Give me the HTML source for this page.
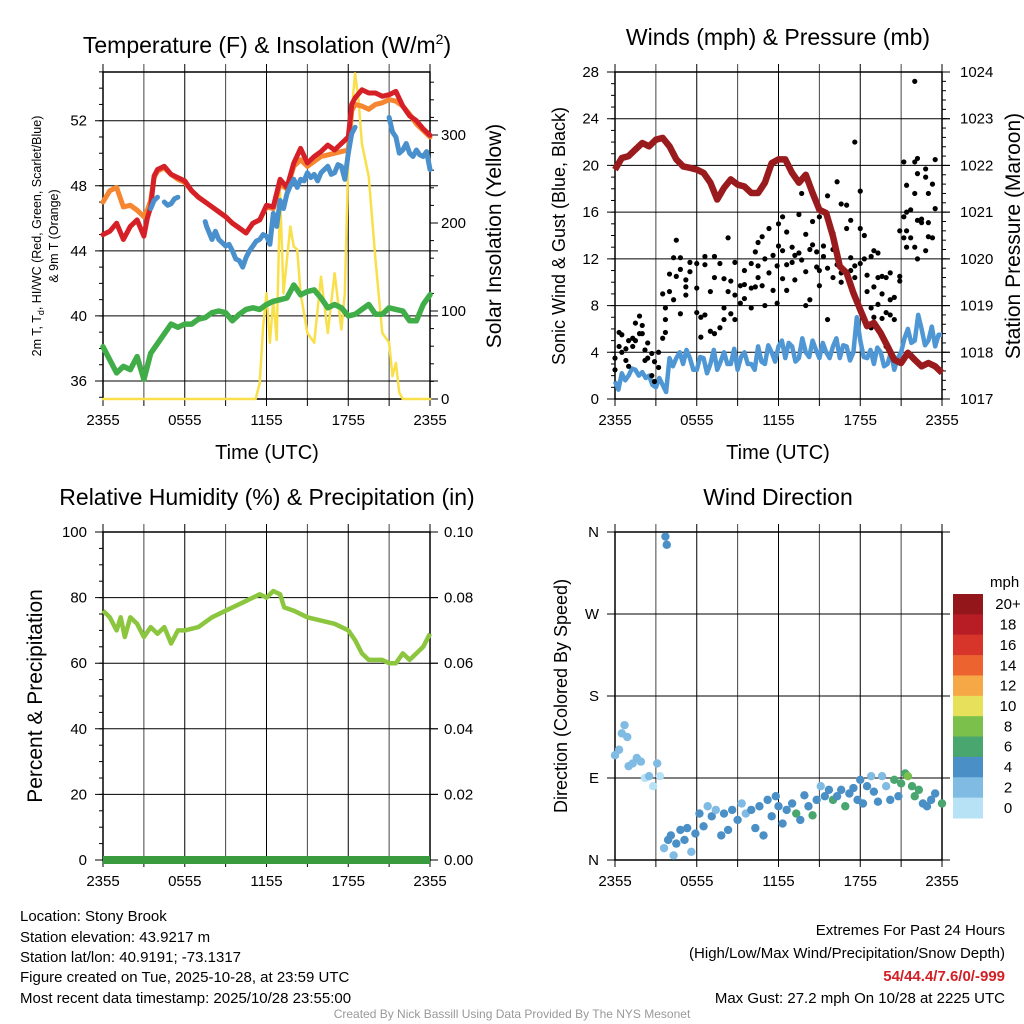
<!DOCTYPE html>
<html><head><meta charset="utf-8">
<style>
html,body{margin:0;padding:0;background:#fff;}
svg{display:block;font-family:"Liberation Sans",Arial,sans-serif;}
</style></head>
<body>
<svg id="s" width="1024" height="1024" viewBox="0 0 1024 1024" xmlns="http://www.w3.org/2000/svg">
<g id="g1"></g>
<g id="g2"></g>
<g id="g3"></g>
<g id="g4"></g>
<g id="ft">
<text x="20" y="921" font-size="15">Location: Stony Brook</text>
<text x="20" y="942" font-size="15">Station elevation: 43.9217 m</text>
<text x="20" y="962" font-size="15">Station lat/lon: 40.9191; -73.1317</text>
<text x="20" y="982" font-size="15">Figure created on Tue, 2025-10-28, at 23:59 UTC</text>
<text x="20" y="1003" font-size="15">Most recent data timestamp: 2025/10/28 23:55:00</text>
<text x="1005" y="935" font-size="15" text-anchor="end">Extremes For Past 24 Hours</text>
<text x="1005" y="958" font-size="15" text-anchor="end">(High/Low/Max Wind/Precipitation/Snow Depth)</text>
<text x="1005" y="981" font-size="15" font-weight="bold" fill="#d21f26" text-anchor="end">54/44.4/7.6/0/-999</text>
<text x="1005" y="1003" font-size="15" text-anchor="end">Max Gust: 27.2 mph On 10/28 at 2225 UTC</text>
<text x="512" y="1018" font-size="12" fill="#999" text-anchor="middle">Created By Nick Bassill Using Data Provided By The NYS Mesonet</text>
</g>
</svg>
<script>
// ---------- data ----------
const xTickLabels = ["2355","0555","1155","1755","2355"];
const tempHours = [0,0.5,1,1.5,2,2.5,3,3.25,3.5,3.75,4,4.5,5,5.5,6,6.5,7,7.5,8,8.5,9,9.5,10,10.5,11,11.5,12,12.5,13,13.5,14,14.5,15,15.5,16,16.5,17,17.5,18,18.25,18.5,19,19.5,20,20.5,21,21.5,22,22.5,23,23.5,24];
const tempRed = [45.0,45.2,45.7,44.7,45.5,45.9,44.9,46.0,46.7,48.6,49.0,49.2,48.7,48.5,48.3,47.7,47.3,47.0,46.7,46.4,46.1,45.7,45.4,45.1,45.7,45.9,46.8,46.7,48.4,47.9,49.4,50.3,49.4,49.8,50.1,50.5,50.2,50.6,51.0,53.0,53.4,53.9,53.7,53.7,53.5,53.6,53.8,52.9,52.3,52.0,51.5,51.1];
const tempOrange = [47.0,47.7,47.9,46.7,46.8,46.5,46.1,46.5,47.1,48.5,48.9,49.1,48.7,48.4,48.2,47.7,47.3,47.0,46.7,46.4,46.1,45.7,45.4,45.1,45.7,45.9,46.7,46.6,48.1,47.8,49.2,49.6,49.2,49.5,49.8,49.9,50.0,50.1,50.2,52.6,53.0,52.9,52.7,53.0,53.1,53.3,53.2,52.9,52.4,51.8,51.4,51.0];
const dewHours = [0,0.5,1,1.5,2,2.5,3,3.5,4,4.5,5,5.5,6,6.5,7,7.5,8,8.5,9,9.5,10,10.5,11,11.5,12,12.5,13,13.5,14,14.5,15,15.5,16,16.5,17,17.5,18,18.5,19,19.5,20,20.5,21,21.5,22,22.5,23,23.5,24];
const dewGreen = [38.1,37.3,36.5,36.9,36.7,37.5,36.1,37.7,38.3,38.9,39.5,39.3,39.5,39.5,39.8,39.9,40.2,40.3,40.2,39.7,40.1,40.4,40.5,40.4,40.7,40.9,41.0,41.1,41.9,41.3,41.5,41.6,41.1,40.5,40.7,40.5,40.0,40.1,40.4,40.7,40.1,40.1,40.5,40.4,40.3,39.7,39.7,40.7,41.3];
const wcHours = [3.5,3.75,4,4.25,4.5,4.75,5,5.25,5.5,5.75,7.5,7.6,8,8.25,8.5,8.75,9,9.25,9.5,9.75,10,10.25,10.5,10.75,11,11.25,11.5,11.75,12,12.25,12.5,12.75,13,13.25,13.5,13.75,14,14.25,14.5,14.75,15,15.25,15.5,15.75,16,16.25,16.5,16.75,17,17.25,17.5,17.75,18,18.25,18.5,19.5,21,21.25,21.5,21.75,22,22.25,22.5,22.75,23,23.25,23.5,23.75,24];
const wcBlue = [46.6,47.1,47.3,null,47.0,46.8,46.9,47.2,47.3,null,45.8,45.5,44.7,45.2,44.7,44.5,44.3,44.4,44.0,43.5,43.4,43.0,43.6,44.0,44.3,44.6,44.7,45.0,44.9,44.4,46.3,45.5,47.1,46.6,47.5,48.0,48.4,47.9,48.4,48.3,48.8,48.5,48.7,48.3,48.8,49.0,49.2,48.7,48.8,49.3,49.2,48.4,50.0,51.2,51.6,null,52.2,51.3,51.0,50.0,50.2,50.6,50.0,49.8,50.2,49.9,49.8,50.1,49.0];
const solarHours = [0,11.2,11.5,11.75,12,12.25,12.5,12.75,13,13.25,13.5,13.75,14,14.25,14.5,15,15.5,16,16.5,17,17.5,17.75,18,18.25,18.5,18.75,19,19.5,20,20.5,21,21.25,21.5,21.75,22,24];
const solarVals = [0,0,18,82,120,64,113,67,234,120,158,196,173,170,120,75,64,139,75,143,79,120,272,328,370,340,290,253,158,75,64,26,41,7,0,0];

const presHours = dewHours;
const presVals = [1021.91,1022.16,1022.2,1022.34,1022.48,1022.41,1022.55,1022.59,1022.41,1022.13,1021.98,1021.95,1021.91,1021.84,1021.63,1021.27,1021.52,1021.7,1021.59,1021.55,1021.41,1021.41,1021.63,1022.05,1022.13,1022.13,1021.84,1021.63,1021.8,1021.41,1021.05,1020.98,1020.48,1019.84,1019.7,1019.27,1018.91,1018.56,1018.63,1018.41,1018.13,1017.84,1017.77,1017.99,1017.84,1017.7,1017.77,1017.7,1017.56];
const windHours = [0,0.25,0.5,0.75,1,1.25,1.5,1.75,2,2.25,2.5,2.75,3,3.25,3.5,3.75,4,4.25,4.5,4.75,5,5.25,5.5,5.75,6,6.25,6.5,6.75,7,7.25,7.5,7.75,8,8.25,8.5,8.75,9,9.25,9.5,9.75,10,10.25,10.5,10.75,11,11.25,11.5,11.75,12,12.25,12.5,12.75,13,13.25,13.5,13.75,14,14.25,14.5,14.75,15,15.25,15.5,15.75,16,16.25,16.5,16.75,17,17.25,17.5,17.75,18,18.25,18.5,18.75,19,19.25,19.5,19.75,20,20.25,20.5,20.75,21,21.25,21.5,21.75,22,22.25,22.5,22.75,23,23.25,23.5,23.75,24];
const windVals = [1.5,0.8,2.2,1.6,2.0,2.6,2.5,2.0,2.3,1.8,2.0,1.2,1.0,1.8,1.2,0.6,3.5,2.8,3.5,4.0,3.0,4.2,3.5,2.5,2.5,3.6,3.5,2.2,3.0,4.2,2.5,3.2,4.0,3.0,3.0,4.3,2.5,3.6,4.0,3.0,3.0,2.5,4.5,3.2,3.0,4.6,4.0,3.2,4.5,5.0,3.5,4.8,4.5,3.2,3.5,5.2,4.0,3.6,5.0,4.2,3.5,4.8,4.0,3.5,4.5,5.2,3.5,4.6,4.5,3.3,4.0,7.0,5.0,3.6,3.5,4.2,3.0,4.4,4.0,2.8,3.0,4.0,2.5,3.5,4.0,5.2,6.0,4.8,5.0,7.2,6.0,4.6,5.0,6.2,4.5,5.5,5.5];
const gustHours = [0,0,0.3,0.3,0.5,0.5,0.8,0.8,1,1,1.3,1.3,1.5,1.5,1.8,1.8,2,2,2.2,2.2,2.4,2.4,2.7,2.7,2.9,2.9,3.2,3.2,3.5,3.5,3.7,3.7,3.7,4,4,4.3,4.3,4.5,4.5,4.8,4.8,4.8,5.2,5.2,5.2,5.5,5.5,6,6,6,6.3,6.3,6.6,6.6,6.6,7,7,7.3,7.3,7.3,7.7,7.7,8,8,8,8.3,8.3,8.5,8.5,8.8,8.8,8.8,9.2,9.2,9.5,9.5,9.5,10,10,10,10.3,10.3,10.5,10.5,10.5,10.8,10.8,11,11,11.3,11.3,11.6,11.6,11.9,11.9,12,12,12.3,12.3,12.3,12.6,12.6,12.6,13,13,13.2,13.2,13.5,13.5,13.7,13.7,14,14,14,14.3,14.3,14.5,14.5,14.8,14.8,15,15,15,15.3,15.3,15.6,15.6,15.6,16,16,16,16.3,16.3,16.6,16.6,16.6,17,17,17.3,17.3,17.3,17.6,17.6,17.6,18,18,18,18.3,18.3,18.5,18.5,18.8,18.8,18.8,19,19,19,19.3,19.3,19.3,19.6,19.6,19.6,19.9,19.9,19.9,20.2,20.2,20.2,20.5,20.5,20.9,20.9,20.9,21.2,21.2,21.2,21.4,21.4,21.4,21.4,21.7,21.7,22,22,22,22,22.2,22.2,22.2,22.2,22.5,22.5,22.8,22.8,22.8,23,23,23,23.3,23.3,23.5,23.5];
const gustVals = [3.5,2.5,5.7,4.5,4.0,5.5,4.3,3.3,5.0,2.8,4.5,5.2,6.5,5.0,7.1,5.6,5.6,6.3,3.3,4.2,4.8,3.5,3.9,2.0,3.2,1.5,2.7,4.0,9.0,5.2,7.8,6.8,5.7,10.7,9.2,12.1,8.5,13.6,10.5,12.1,11.1,7.3,10.2,9.6,8.9,11.7,10.9,7.4,9.5,11.6,5.3,7.0,12.2,7.2,11.5,9.2,5.8,10.4,12.2,5.6,6.1,11.6,10.3,6.8,7.8,9.2,13.8,10.1,7.3,11.7,8.9,6.8,9.7,8.2,11.0,9.8,8.6,9.5,7.8,11.6,12.6,9.6,13.4,11.4,10.4,9.7,13.9,12.0,8.0,14.6,10.8,12.3,9.3,11.4,8.2,15.0,13.1,15.6,12.7,10.3,14.3,11.5,9.3,11.7,13.0,12.3,10.2,15.8,12.5,17.6,11.9,14.1,10.9,8.0,12.8,8.5,15.2,13.2,12.6,11.3,15.6,11.0,9.7,12.2,13.1,17.4,6.8,11.2,14.2,12.8,10.4,18.6,11.5,16.7,10.8,10.0,16.6,14.6,15.3,12.1,11.0,22.0,10.4,11.4,17.8,14.6,11.6,14.0,12.0,10.6,9.2,12.2,7.8,6.1,12.7,9.6,7.0,12.5,10.4,8.1,9.0,6.9,10.5,10.4,7.4,4.5,8.5,7.2,10.8,8.7,6.8,14.4,10.5,10.1,15.6,13.8,20.3,18.3,16.0,14.4,13.0,16.2,13.8,17.6,27.2,20.3,13.0,12.0,20.6,15.3,19.3,15.1,15.4,19.7,19.0,12.7,17.6,15.1,13.9,18.4,13.8,16.3,20.5];

const rhHours = [0,0.5,1,1.3,1.6,2,2.5,3,3.5,4,4.5,5,5.5,6,7,8,9,10,11,11.5,12,12.5,13,13.3,14,15,16,17,18,18.5,19,19.5,20,20.5,21,21.5,22,22.5,23,23.5,24];
const rhVals = [76,74,70,74,68,74,72,68,71,69,71,66,70,70,71,74,76,78,80,81,80,82,81,77,76,74,73,72,70,67,63,61,61,61,60,60,63,61,63,65,69];
const precipHours = [0,24];
const precipVals = [0,0];

const dirHours = [0,0.3,0.5,0.7,0.9,1,1.3,1.6,1.9,2.2,2.5,2.8,3.1,3.3,3.7,3.8,3.6,3.9,4.1,4.3,4.5,4.8,5.1,5.3,5.6,5.9,6.2,6.5,6.8,7.1,7.4,7.8,8,8.3,8.6,9,9.3,9.6,10,10.3,10.6,10.9,11.2,11.5,11.8,12,12.3,12.6,13,13.3,13.6,13.9,14.2,14.5,14.8,15.1,15.4,15.7,16,16.3,16.6,16.9,17.2,17.5,17.8,18,18.2,18.5,18.8,19,19.3,19.6,19.9,20.2,20.5,20.8,21,21.3,21.5,21.8,22,22.3,22.6,22.9,23.2,23.5,24];
const dirVals = [115,121,139,148,135,103,106,112,108,90,92,81,106,92,355,346,13,22,27,5,18,33,22,35,9,29,51,37,59,48,55,27,51,33,55,44,62,51,55,35,59,27,66,48,70,59,40,55,62,51,44,71,59,49,66,81,70,77,66,70,77,59,73,79,66,88,62,81,92,75,64,92,81,66,88,70,84,95,92,81,70,77,62,59,66,73,62];
const dirSpeeds = [2,2,2,2,2,2,2,2,2,1,2,1,2,0,4,4,2,4,4,2,4,4,4,4,2,4,4,4,2,4,2,4,4,4,4,4,2,2,4,4,4,4,4,4,4,4,4,4,4,6,4,4,4,6,4,2,4,4,6,4,4,6,4,4,4,4,4,4,2,4,4,2,2,4,6,4,6,6,8,6,6,6,4,4,4,4,6];
const cbLabels = ["20+","18","16","14","12","10","8","6","4","2","0"];
const cbColors = ["#93161a","#b81d25","#d8352a","#ec6330","#f5a845","#e7e05b","#7bc04b","#49a66f","#4a90c6","#80bbe4","#b7e2f6"];

// ---------- helpers ----------
const NS="http://www.w3.org/2000/svg";
function mk(parent,tag,attrs,text){const e=document.createElementNS(NS,tag);for(const k in attrs)e.setAttribute(k,attrs[k]);if(text!==undefined)e.textContent=text;parent.appendChild(e);return e;}
function lin(d0,d1,r0,r1){return v=>r0+(v-d0)*(r1-r0)/(d1-d0);}
function pathFrom(xs,ys,sx,sy){let d="",pen=false;for(let i=0;i<xs.length;i++){if(ys[i]===null){pen=false;continue;}d+=(pen?"L":"M")+sx(xs[i]).toFixed(1)+","+sy(ys[i]).toFixed(1);pen=true;}return d;}
function colorFor(s){const idx=Math.min(10,Math.floor(s/2));return cbColors[10-idx];}

function frame(g,x0,x1,y0,y1,yticks,ysc,ylab,xlabY){
  for(let h=0;h<=24;h+=3){const x=lin(0,24,x0,x1)(h);
    const gl=mk(g,"line",{x1:x,x2:x,y1:y0-8,y2:y1,stroke:h%6===0?"#000":"#444","stroke-width":1});
    
    
    mk(g,"line",{x1:x,x2:x,y1:y1,y2:y1+7,stroke:"#000"});}
  xTickLabels.forEach((t,i)=>{const x=lin(0,24,x0,x1)(i*6);
    const tl=mk(g,"text",{x:x,y:xlabY,"font-size":15,"text-anchor":"middle"},t);
    
    });
  yticks.forEach((v,i)=>{const y=ysc(v);
    const gl=mk(g,"line",{x1:x0-8,x2:x1+8,y1:y,y2:y,stroke:"#000","stroke-width":1});
    
    
    const tl=mk(g,"text",{x:x0-16,y:y+5,"font-size":15,"text-anchor":"end"},ylab[i]);
    
    });
  mk(g,"rect",{x:x0,y:y0,width:x1-x0,height:y1-y0,fill:"none",stroke:"#000","stroke-width":1.5});
}

// ---------- Panel 1 ----------
(function(){
const g=document.getElementById("g1");
const X0=103,X1=430,Y0=72,Y1=399;
const sx=lin(0,24,X0,X1), sy=lin(36,52,381,120.7), ss=lin(0,300,399,135);
const tt=mk(g,"text",{x:267,y:53,"font-size":23,"text-anchor":"middle"});


tt.innerHTML='Temperature (F) &amp; Insolation (W/m<tspan dy="-9" font-size="14">2</tspan><tspan dy="9">)</tspan>';
frame(g,X0,X1,Y0,Y1,[36,40,44,48,52],sy,["36","40","44","48","52"],425);
for(let v=35;v<=55;v++){mk(g,"line",{x1:X0-4,x2:X0,y1:sy(v),y2:sy(v),stroke:"#000"});}
[0,100,200,300].forEach(v=>{const y=ss(v);mk(g,"line",{x1:X1,x2:X1+8,y1:y,y2:y,stroke:"#000"});
  const t=mk(g,"text",{x:X1+11,y:y+5,"font-size":15},String(v));
  
  });
for(let v=20;v<=360;v+=20){if(v%100)mk(g,"line",{x1:X1,x2:X1+4,y1:ss(v),y2:ss(v),stroke:"#000"});}
const lines=[[solarHours,solarVals,ss,"#f9e04b",2.5,"solar-insolation-line"],[tempHours,tempOrange,sy,"#f68630",5,"temp-9m-line"],[tempHours,tempRed,sy,"#d52027",5,"temp-2m-line"],[dewHours,dewGreen,sy,"#41ad49",5.5,"dewpoint-line"],[wcHours,wcBlue,sy,"#4a90cd",5,"heat-index-line"]];
lines.forEach(L=>{const p=mk(g,"path",{d:pathFrom(L[0],L[1],sx,L[2]),fill:"none",stroke:L[3],"stroke-width":L[4],"stroke-linejoin":"round","stroke-linecap":"round"});
  
  });
const yl=mk(g,"text",{transform:"translate(41,236) rotate(-90)","font-size":12.5,"text-anchor":"middle"});


yl.innerHTML='2m T, T<tspan font-size="9" dy="3">d</tspan><tspan dy="-3">, HI/WC (Red, Green, Scarlet/Blue)</tspan>';
const yl2=mk(g,"text",{transform:"translate(58,236) rotate(-90)","font-size":12.5,"text-anchor":"middle"},"& 9m T (Orange)");


const yr=mk(g,"text",{transform:"translate(501,236) rotate(-90)","font-size":21,"text-anchor":"middle"},"Solar Insolation (Yellow)");


const xl=mk(g,"text",{x:267,y:459,"font-size":20,"text-anchor":"middle"},"Time (UTC)");


})();

// ---------- Panel 2 ----------
(function(){
const g=document.getElementById("g2");
const X0=615,X1=942,Y0=72,Y1=399;
const sx=lin(0,24,X0,X1), sw=lin(0,28,Y1,Y0), sp=lin(1017,1024,Y1,Y0);
const tt=mk(g,"text",{x:778,y:45,"font-size":23,"text-anchor":"middle"},"Winds (mph) & Pressure (mb)");


frame(g,X0,X1,Y0,Y1,[0,4,8,12,16,20,24,28],sw,["0","4","8","12","16","20","24","28"],425);
for(let v=1017;v<=1024;v++){const y=sp(v);mk(g,"line",{x1:X1,x2:X1+8,y1:y,y2:y,stroke:"#000"});
  const t=mk(g,"text",{x:X1+18,y:y+5,"font-size":15},String(v));
  
  }
for(let v=1017;v<1024;v+=0.2){mk(g,"line",{x1:X1,x2:X1+4,y1:sp(v),y2:sp(v),stroke:"#000"});}
for(let v=0;v<28;v+=1){mk(g,"line",{x1:X0-4,x2:X0,y1:sw(v),y2:sw(v),stroke:"#000"});}
const wl=mk(g,"path",{d:pathFrom(windHours,windVals,sx,sw),fill:"none",stroke:"#4e97d4","stroke-width":4.5,"stroke-linejoin":"round"});


gustHours.forEach((h,i)=>{const c=mk(g,"circle",{cx:sx(h),cy:sw(gustVals[i]),r:2.6,fill:"#000"});
  
  });
const pl=mk(g,"path",{d:pathFrom(presHours,presVals,sx,sp),fill:"none",stroke:"#9a1b1d","stroke-width":6.5,"stroke-linejoin":"round"});


const yl=mk(g,"text",{transform:"translate(565,236) rotate(-90)","font-size":18,"text-anchor":"middle"},"Sonic Wind & Gust (Blue, Black)");


const yr=mk(g,"text",{transform:"translate(1020,236) rotate(-90)","font-size":21,"text-anchor":"middle"},"Station Pressure (Maroon)");


const xl=mk(g,"text",{x:778,y:459,"font-size":20,"text-anchor":"middle"},"Time (UTC)");


})();

// ---------- Panel 3 ----------
(function(){
const g=document.getElementById("g3");
const X0=103,X1=430,Y0=532,Y1=860;
const sx=lin(0,24,X0,X1), sr=lin(0,100,Y1,Y0), spc=lin(0,0.1,Y1,Y0);
const tt=mk(g,"text",{x:267,y:505,"font-size":23,"text-anchor":"middle"},"Relative Humidity (%) & Precipitation (in)");


frame(g,X0,X1,Y0,Y1,[0,20,40,60,80,100],sr,["0","20","40","60","80","100"],886);
[0,0.02,0.04,0.06,0.08,0.1].forEach(v=>{const y=spc(v);mk(g,"line",{x1:X1,x2:X1+8,y1:y,y2:y,stroke:"#000"});
  const t=mk(g,"text",{x:X1+14,y:y+5,"font-size":15},v.toFixed(2));
  
  });
for(let v=0;v<=100;v+=5){mk(g,"line",{x1:X0-4,x2:X0,y1:sr(v),y2:sr(v),stroke:"#000"});}
const rl=mk(g,"path",{d:pathFrom(rhHours,rhVals,sx,sr),fill:"none",stroke:"#8cc63f","stroke-width":4.5,"stroke-linejoin":"round"});


const pl=mk(g,"path",{d:pathFrom(precipHours,precipVals,sx,spc),fill:"none",stroke:"#3a9b3e","stroke-width":8});


const yl=mk(g,"text",{transform:"translate(42,696) rotate(-90)","font-size":21,"text-anchor":"middle"},"Percent & Precipitation");


})();

// ---------- Panel 4 ----------
(function(){
const g=document.getElementById("g4");
const X0=615,X1=942,Y0=532,Y1=860;
const sx=lin(0,24,X0,X1), sd=lin(0,360,Y1,Y0);
const tt=mk(g,"text",{x:778,y:505,"font-size":23,"text-anchor":"middle"},"Wind Direction");


frame(g,X0,X1,Y0,Y1,[0,90,180,270,360],sd,["N","E","S","W","N"],886);
dirHours.forEach((h,i)=>{const c=mk(g,"circle",{cx:sx(h),cy:sd(dirVals[i]),r:4.2,fill:colorFor(dirSpeeds[i])});
  
  });
const yl=mk(g,"text",{transform:"translate(567,696) rotate(-90)","font-size":18,"text-anchor":"middle"},"Direction (Colored By Speed)");


const cb=mk(g,"g",{});


const mt=mk(cb,"text",{x:990,y:587,"font-size":15},"mph");


const bh=(818-594)/11;
cbLabels.forEach((l,i)=>{mk(cb,"rect",{x:953,y:594+i*bh,width:30,height:bh+0.5,fill:cbColors[i]});
  const t=mk(cb,"text",{x:1008,y:594+i*bh+bh/2+5,"font-size":15,"text-anchor":"middle"},l);
  
  });
})();
</script>
</body></html>
